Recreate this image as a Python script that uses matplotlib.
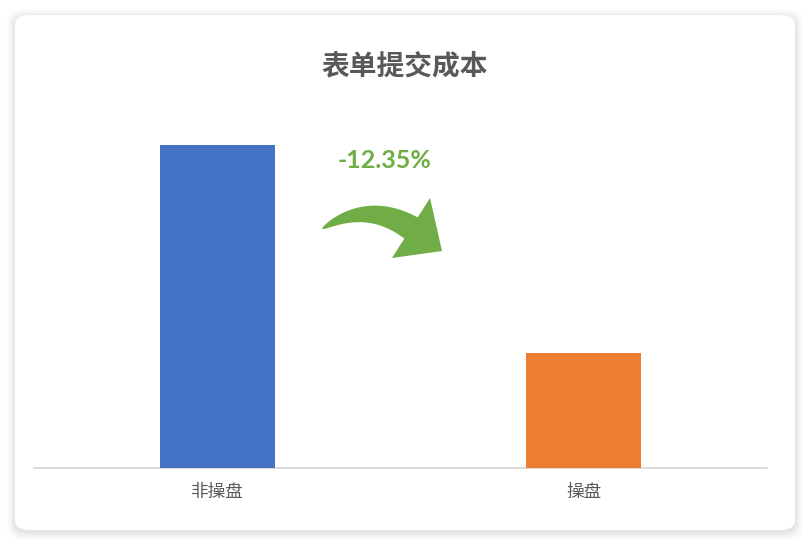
import matplotlib
matplotlib.use("Agg")
import numpy as np
import matplotlib.pyplot as plt
from matplotlib.patches import FancyBboxPatch, Polygon

plt.rcParams['font.family'] = ['Noto Sans CJK SC', 'DejaVu Sans']

title = "表单提交成本"
categories = ["非操盘", "操盘"]
values = [100.0, 87.65]
colors = ["#4472C4", "#ED7D31"]
change_label = "-12.35%"
y_min, y_max = 80.82, 102.67

W, H = 810, 545
fig = plt.figure(figsize=(W / 100, H / 100), dpi=100)
fig.patch.set_facecolor("white")


def fx(px):
    return px / W


def fy(py):
    return 1 - py / H


# card shadow + card
for i, a in enumerate([0.012, 0.015, 0.02, 0.025, 0.03]):
    pad = 8 - i * 1.6
    sh = FancyBboxPatch((fx(15 - pad), fy(530 + pad + 2)),
                        (780 + 2 * pad) / W, (515 + 2 * pad) / H,
                        boxstyle="round,pad=0,rounding_size=0.02",
                        transform=fig.transFigure, facecolor="black", edgecolor="none",
                        alpha=a, zorder=0)
    fig.patches.append(sh)
card = FancyBboxPatch((fx(15), fy(530)), 780 / W, 515 / H,
                      boxstyle="round,pad=0,rounding_size=0.018",
                      transform=fig.transFigure, facecolor="white", edgecolor="none", zorder=1)
fig.patches.append(card)

ax = fig.add_axes([fx(34), fy(468), 733 / W, 368 / H])
ax.set_zorder(3)
ax.set_facecolor("none")
x = list(range(len(categories)))
ax.bar(x, values, width=0.313, color=colors, zorder=3)
ax.set_xlim(-0.5, 1.5)
ax.set_ylim(y_min, y_max)
ax.set_xticks(x)
ax.set_xticklabels(categories, fontsize=12.7, color="#595959")
ax.tick_params(axis="x", length=0, pad=11)
ax.set_yticks([])
for s in ["top", "right", "left"]:
    ax.spines[s].set_visible(False)
ax.spines["bottom"].set_color("#D9D9D9")
ax.spines["bottom"].set_linewidth(1.3)

fig.text(0.5, fy(66), title, ha="center", va="center", fontsize=20,
         fontweight="bold", color="#595959", zorder=4)

fig.text(fx(385), fy(160), change_label, ha="center", va="center",
         fontsize=18, fontweight="bold", color="#70AD47",
         family=["Lato", "DejaVu Sans"], zorder=4)

# curved arrow decoration (pixel geometry -> figure fraction)
p0 = np.array([322.0, 229.0])
p2 = np.array([411.0, 228.0])
d = np.array([0.845, 0.535])
p1 = p2 - 52 * d
t = np.linspace(0, 1, 60)[:, None]
B = (1 - t) ** 2 * p0 + 2 * (1 - t) * t * p1 + t ** 2 * p2
dB = 2 * (1 - t) * (p1 - p0) + 2 * t * (p2 - p1)
dB /= np.linalg.norm(dB, axis=1, keepdims=True)
N = np.column_stack([dB[:, 1], -dB[:, 0]])
w = 12.5 * t[:, 0] ** 0.6
upper = B + N * w[:, None]
lower = B - N * w[:, None]
head_up = np.array([430.0, 198.0])
head_tip = np.array([442.0, 251.0])
head_low = np.array([392.0, 258.0])
pts = np.vstack([upper, head_up[None], head_tip[None], head_low[None], lower[::-1]])
pts_fig = np.column_stack([pts[:, 0] / W, 1 - pts[:, 1] / H])
arrow = Polygon(pts_fig, closed=True, transform=fig.transFigure,
                facecolor="#70AD47", edgecolor="none", zorder=5)
fig.patches.append(arrow)

fig.savefig("out.png", dpi=100, facecolor="white")
